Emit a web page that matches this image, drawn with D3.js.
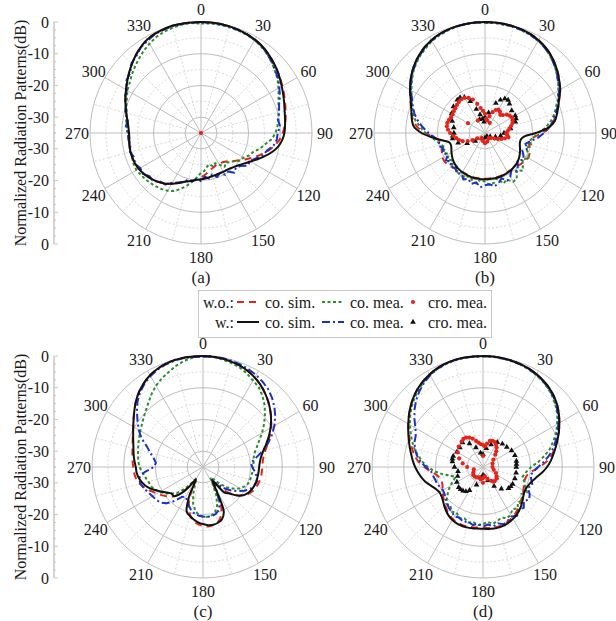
<!DOCTYPE html>
<html>
<head>
<meta charset="utf-8">
<script src="https://cdn.jsdelivr.net/npm/d3@7"></script>
<style>
  html, body { margin: 0; padding: 0; background: #fff; }
  svg { display: block; }
</style>
</head>
<body>
<svg id="chart" width="616" height="621"></svg>
<script>
// ---- data (dB, angles in degrees, clockwise from 0 at top) ----
const angles = d3.range(0, 360, 5);

const radialTicks = [0, -10, -20, -30];
const angleTicks = d3.range(0, 360, 30);
const panelLabels = ["(a)", "(b)", "(c)", "(d)"];

// (a)
const aWoCoSim = [0,0,-0.1,-0.2,-0.4,-0.7,-1.0,-1.5,-2.2,-3.0,-3.8,-4.6,-5.4,-6.1,-6.8,-7.4,-7.9,-8.5,-9.2,-10.2,-11.6,-13.2,-15.0,-16.8,-18.5,-20.0,-21.3,-22.4,-23.2,-23.6,-23.8,-23.8,-23.5,-23.0,-22.4,-21.7,-21.0,-20.4,-19.8,-19.2,-18.6,-17.5,-16.5,-15.5,-14.7,-14.0,-13.4,-12.8,-12.4,-12.1,-12.0,-12.0,-12.1,-12.3,-12.3,-12.0,-11.4,-10.6,-9.7,-8.7,-7.7,-6.6,-5.4,-4.2,-3.0,-1.9,-1.0,-0.5,-0.2,0,0,0];
const aWoCoMea = [-0.5,-0.3,-0.4,-0.5,-0.6,-0.8,-1.2,-1.8,-2.5,-3.5,-4.5,-5.5,-6.8,-8.0,-9.0,-9.6,-10.2,-10.8,-11.5,-12.6,-14.5,-15.8,-17.5,-18.2,-19.5,-19.8,-21.2,-22.0,-22.8,-22.0,-23.5,-24.5,-23.8,-24.8,-24.2,-23.0,-22.5,-21.0,-19.5,-17.8,-16.2,-14.8,-14.0,-13.4,-13.0,-12.6,-12.2,-11.9,-11.5,-11.6,-11.9,-12.2,-12.0,-12.4,-12.0,-11.5,-11.0,-10.8,-10.0,-9.2,-8.2,-7.5,-6.5,-5.5,-4.5,-3.4,-2.5,-1.6,-1.0,-0.6,-0.3,-0.2];
const aWCoSim = [0,0,-0.1,-0.2,-0.4,-0.7,-1.0,-1.5,-2.2,-3.0,-3.8,-4.7,-5.6,-6.4,-7.1,-7.7,-8.1,-8.4,-8.7,-9.3,-10.3,-11.8,-13.6,-15.4,-17.0,-18.3,-19.3,-20.0,-20.5,-20.8,-20.9,-21.0,-21.0,-20.9,-20.8,-20.6,-20.4,-20.2,-19.7,-19.2,-18.6,-17.5,-16.5,-15.5,-14.7,-14.0,-13.4,-12.8,-12.4,-12.1,-12.0,-12.0,-12.1,-12.3,-12.3,-12.0,-11.4,-10.6,-9.7,-8.7,-7.7,-6.6,-5.4,-4.2,-3.0,-1.9,-1.0,-0.5,-0.2,0,0,0];
const aWCoMea = [0,-0.2,0,-0.3,-0.5,-0.6,-1.2,-1.5,-2.6,-3.3,-4.5,-5.2,-6.5,-7.5,-8.8,-9.5,-10.4,-10.0,-10.8,-11.0,-11.8,-13.5,-14.2,-16.0,-17.2,-17.0,-18.8,-19.5,-18.6,-20.2,-19.8,-21.0,-20.2,-21.5,-20.4,-21.2,-19.8,-20.6,-19.5,-19.9,-18.4,-17.8,-16.8,-15.2,-15.0,-13.6,-13.8,-12.6,-12.9,-12.0,-12.6,-11.8,-12.4,-12.0,-11.9,-11.2,-11.6,-10.2,-9.8,-8.4,-8.0,-6.2,-5.8,-4.0,-3.3,-2.0,-1.4,-0.6,-0.4,-0.1,0,-0.1];
const aWoCro = [[0, -35]];
const aWCro = [];

// (b)
const bWoCoSim = [0,0,-0.1,-0.2,-0.4,-0.7,-1.2,-1.9,-2.8,-3.9,-5.1,-6.4,-7.7,-9.1,-10.5,-11.8,-13.0,-14.5,-17.0,-19.6,-20.8,-20.6,-20.0,-19.5,-19.3,-19.5,-20.0,-20.4,-20.7,-20.8,-20.8,-20.7,-20.6,-20.6,-20.6,-20.6,-20.6,-20.6,-20.6,-20.6,-20.7,-20.8,-20.8,-20.7,-20.4,-20.0,-19.6,-19.4,-19.5,-20.0,-20.6,-21.0,-20.6,-19.0,-16.2,-13.6,-12.0,-11.0,-10.1,-9.0,-7.7,-6.3,-5.0,-3.8,-2.8,-1.9,-1.2,-0.7,-0.4,-0.2,-0.1,0];
const bWoCoMea = [-0.3,-0.1,-0.4,-0.3,-0.7,-0.9,-1.5,-2.0,-3.2,-4.1,-5.6,-6.8,-8.3,-9.6,-11.2,-12.4,-14.0,-15.8,-18.2,-19.5,-20.8,-19.8,-21.2,-20.0,-19.0,-20.6,-19.4,-18.2,-19.6,-17.5,-17.2,-18.8,-18.0,-20.2,-19.0,-18.6,-19.6,-20.4,-18.8,-19.5,-20.6,-19.4,-20.8,-19.8,-21.2,-20.4,-21.5,-20.6,-21.8,-20.5,-21.6,-20.8,-19.6,-18.2,-16.2,-14.6,-12.8,-11.4,-10.6,-9.4,-8.2,-6.8,-5.4,-4.2,-3.2,-2.4,-1.5,-1.0,-0.6,-0.3,-0.2,-0.1];
const bWCoSim = [0,0,-0.1,-0.2,-0.4,-0.7,-1.2,-1.9,-2.8,-3.9,-5.1,-6.4,-7.6,-9.2,-10.4,-11.5,-12.6,-14.8,-19.0,-22.5,-23.5,-23.6,-23.3,-22.8,-22.3,-21.8,-21.4,-21.1,-20.9,-20.7,-20.6,-20.5,-20.4,-20.4,-20.4,-20.4,-20.4,-20.4,-20.4,-20.4,-20.5,-20.6,-20.7,-20.9,-21.1,-21.4,-21.8,-22.3,-22.8,-23.3,-23.6,-23.4,-21.5,-18.4,-15.0,-12.5,-11.6,-11.0,-10.2,-9.1,-7.7,-6.3,-5.0,-3.8,-2.8,-1.9,-1.2,-0.7,-0.4,-0.2,-0.1,0];
const bWCoMea = [0,-0.2,0,-0.4,-0.5,-1.0,-1.4,-2.2,-3.0,-4.3,-5.4,-6.9,-8.0,-9.5,-10.6,-12.0,-13.2,-14.6,-16.4,-18.2,-20.4,-21.8,-20.6,-22.0,-21.0,-20.2,-21.6,-20.4,-19.2,-20.6,-19.0,-18.4,-19.8,-18.6,-17.9,-18.8,-18.5,-17.8,-19.2,-18.4,-19.6,-18.8,-20.2,-19.4,-20.6,-19.8,-21.0,-20.0,-21.4,-20.2,-21.0,-19.8,-20.4,-19.0,-17.2,-15.4,-13.6,-12.0,-10.8,-9.6,-8.0,-6.6,-5.2,-4.0,-3.0,-2.0,-1.3,-0.8,-0.4,-0.2,-0.1,0];
const bWoCro = [[0,-29],[5,-30.5],[10,-31],[15,-29.5],[20,-28],[25,-27],[30,-26.5],[35,-26.8],[40,-27.5],[45,-27],[50,-26],[55,-25.5],[60,-25.2],[65,-25.4],[70,-25.8],[75,-26.5],[80,-27.2],[85,-27.8],[90,-28.3],[95,-28],[100,-27.5],[105,-28.5],[110,-29.5],[115,-30.5],[120,-31.5],[130,-32.5],[145,-33],[165,-32.2],[180,-31.8],[195,-32.4],[215,-33],[235,-32],[240,-30.5],[245,-29],[250,-27.5],[255,-26.5],[260,-25.8],[265,-25],[270,-24],[275,-23.3],[280,-22.8],[285,-22.7],[290,-22.9],[295,-23.2],[300,-23.2],[305,-23],[310,-22.8],[315,-22.5],[320,-22.2],[325,-22],[330,-22.2],[335,-22.8],[340,-23.8],[345,-25.5],[350,-27],[355,-28],[330,-30.5],[300,-28.8],[25,-31.5]];
const bWCro = [[0,-30],[10,-28.5],[20,-25],[25,-23.5],[30,-22.5],[35,-22.3],[40,-23],[50,-24],[60,-24],[65,-24.2],[70,-24.8],[80,-26.8],[90,-29],[100,-30],[110,-31.5],[125,-33],[150,-33.8],[180,-33.5],[210,-33],[230,-31],[240,-28.5],[250,-26],[260,-24.6],[265,-24.8],[270,-25.2],[280,-25],[290,-24],[300,-22.8],[310,-22],[320,-21.4],[325,-21.3],[330,-22],[335,-24],[340,-27],[345,-29],[350,-30.5],[338,-30.4],[355,-31.5]];

// (c)
const cWoCoSim = [0,-0.1,-0.3,-0.6,-1.0,-1.6,-2.4,-3.4,-4.6,-5.9,-7.3,-8.7,-10.2,-11.8,-13.3,-14.6,-15.6,-16.1,-16.3,-16.4,-16.5,-16.7,-17.0,-17.5,-18.3,-19.5,-21.2,-23.5,-26.5,-29.8,-28.0,-21.5,-18.5,-17.0,-16.4,-16.2,-16.4,-16.9,-17.8,-19.3,-21.8,-25.8,-29.8,-27.5,-24.2,-22.0,-20.6,-19.4,-18.3,-17.0,-15.6,-14.4,-13.6,-13.2,-13.0,-12.7,-12.4,-12.0,-11.4,-10.6,-9.6,-8.3,-6.8,-5.2,-3.8,-2.6,-1.6,-0.9,-0.4,-0.1,0,0];
const cWoCoMea = [0,-0.1,-0.5,-1.0,-1.5,-2.4,-3.5,-4.3,-5.8,-7.5,-9.5,-11.5,-13.5,-15.5,-17.0,-18.2,-18.8,-19.0,-19.2,-19.3,-19.5,-19.6,-19.8,-20.5,-21.5,-23.0,-25.0,-27.5,-30.0,-31.0,-29.0,-25.0,-22.0,-20.2,-19.5,-19.2,-19.3,-19.8,-21.0,-23.0,-26.0,-29.0,-31.0,-29.0,-26.0,-23.5,-22.0,-20.5,-19.2,-18.2,-17.5,-17.2,-16.5,-15.8,-15.0,-14.5,-14.2,-13.8,-13.3,-12.8,-12.2,-11.5,-10.6,-9.6,-8.3,-6.8,-5.4,-4.2,-3.2,-2.0,-1.0,-0.3];
const cWCoSim = [0,-0.1,-0.3,-0.6,-1.0,-1.6,-2.4,-3.4,-4.6,-5.9,-7.3,-8.8,-10.4,-12.1,-13.8,-15.3,-16.4,-17.0,-17.3,-17.4,-17.5,-17.6,-17.8,-18.1,-18.6,-19.5,-21.0,-23.2,-24.5,-30.0,-27.0,-19.5,-17.5,-16.8,-16.5,-16.6,-17.0,-17.5,-18.2,-19.0,-20.0,-24.5,-30.5,-27.5,-24.0,-22.0,-22.0,-21.0,-19.6,-18.0,-16.4,-15.3,-14.5,-14.0,-13.8,-13.3,-12.8,-12.3,-11.6,-10.7,-9.6,-8.3,-6.8,-5.2,-3.8,-2.6,-1.6,-0.9,-0.4,-0.1,0,0];
const cWCoMea = [-0.2,0,-0.1,-0.3,-0.6,-1.0,-1.5,-2.2,-3.0,-4.2,-5.6,-7.2,-9.0,-11.0,-13.2,-15.5,-18.0,-19.8,-19.5,-18.6,-17.8,-17.4,-17.8,-18.6,-20.0,-21.8,-23.5,-25.5,-28.0,-29.0,-26.5,-22.5,-20.5,-19.6,-19.3,-19.2,-19.4,-19.6,-20.0,-20.8,-22.0,-23.2,-24.2,-23.5,-21.0,-18.8,-17.5,-17.0,-16.6,-16.0,-15.2,-14.6,-14.4,-16.5,-19.5,-20.1,-19.2,-17.8,-16.2,-13.6,-11.6,-9.8,-7.8,-5.8,-4.2,-2.9,-1.9,-1.1,-0.6,-0.3,-0.1,-0.2];
const cWoCro = [];
const cWCro = [];

// (d)
const dWoCoSim = [0,0,-0.1,-0.3,-0.5,-0.8,-1.2,-1.8,-2.5,-3.4,-4.5,-5.8,-7.2,-8.6,-10.0,-11.5,-13.0,-14.8,-17.2,-19.5,-20.8,-21.2,-21.1,-20.8,-20.3,-19.8,-19.2,-18.5,-17.8,-17.2,-16.6,-16.1,-15.8,-15.6,-15.6,-15.7,-15.8,-15.8,-15.7,-15.6,-15.6,-15.8,-16.0,-16.6,-17.3,-18.1,-18.9,-19.6,-20.3,-20.9,-21.2,-21.0,-20.2,-18.5,-16.5,-14.5,-13.0,-11.8,-10.4,-9.1,-7.8,-6.5,-5.2,-4.0,-2.9,-2.0,-1.3,-0.7,-0.3,-0.1,0,0];
const dWoCoMea = [-0.2,0,-0.2,-0.4,-0.6,-1.0,-1.5,-2.1,-2.9,-3.9,-5.1,-6.4,-8.0,-9.6,-11.4,-13.2,-15.4,-17.6,-19.8,-21.0,-21.8,-22.2,-21.0,-20.4,-19.0,-20.2,-18.6,-19.4,-18.0,-18.8,-17.6,-17.2,-18.0,-17.4,-16.8,-17.6,-17.0,-16.6,-17.4,-16.9,-17.8,-17.2,-18.4,-17.8,-19.0,-18.6,-20.2,-21.6,-23.0,-24.6,-25.8,-24.4,-22.0,-19.6,-17.6,-15.8,-14.2,-12.6,-11.2,-9.8,-8.4,-7.0,-5.6,-4.4,-3.3,-2.3,-1.5,-0.9,-0.5,-0.2,-0.1,-0.1];
const dWCoSim = [0,0,-0.1,-0.3,-0.5,-0.8,-1.2,-1.8,-2.5,-3.4,-4.5,-5.8,-7.2,-8.6,-10.0,-11.3,-12.5,-13.6,-14.8,-16.2,-17.6,-18.7,-19.4,-19.8,-19.8,-19.4,-18.7,-17.9,-17.2,-16.6,-16.1,-15.7,-15.4,-15.3,-15.3,-15.4,-15.5,-15.5,-15.4,-15.3,-15.3,-15.4,-15.7,-16.2,-16.9,-17.7,-18.5,-19.0,-19.1,-18.6,-17.6,-16.4,-15.4,-14.5,-13.6,-12.8,-12.0,-11.1,-10.1,-9.0,-7.8,-6.5,-5.2,-4.0,-2.9,-2.0,-1.3,-0.7,-0.3,-0.1,0,0];
const dWCoMea = [0,-0.1,-0.3,-0.2,-0.6,-0.9,-1.4,-1.9,-2.8,-3.6,-4.9,-6.0,-7.6,-9.0,-10.6,-12.0,-13.8,-15.6,-17.6,-19.0,-19.8,-19.2,-18.4,-19.4,-18.0,-17.2,-18.2,-16.8,-17.4,-16.2,-17.0,-16.4,-15.8,-16.6,-16.0,-16.8,-16.2,-17.0,-16.4,-17.2,-16.6,-17.4,-17.0,-17.8,-18.2,-19.0,-19.6,-20.2,-20.4,-20.0,-19.6,-19.4,-19.0,-18.6,-17.0,-15.2,-13.8,-12.8,-12.0,-11.6,-10.4,-8.6,-6.8,-5.2,-3.8,-2.6,-1.6,-0.9,-0.4,-0.1,0,-0.1];
const dWoCro = [[0,-28],[5,-28.5],[10,-27.5],[15,-26.5],[20,-26.2],[25,-26.3],[30,-26.8],[35,-27.5],[40,-28.5],[45,-29.5],[55,-31],[70,-31.8],[90,-32],[105,-31.5],[115,-30.5],[125,-29.8],[130,-29.3],[140,-29.2],[145,-29.4],[150,-30],[160,-31],[170,-32],[180,-31.5],[190,-31],[200,-31.5],[210,-31.2],[220,-31],[230,-31],[240,-31.5],[255,-32],[270,-30],[280,-28.5],[290,-27],[300,-25.8],[310,-25],[320,-24.5],[325,-24.2],[330,-24.3],[335,-24.8],[340,-25.5],[345,-26.5],[350,-27.2],[355,-27.8],[0,-31.5],[180,-30]];
const dWCro = [[0,-31],[10,-29],[20,-27.5],[30,-26],[40,-25.5],[50,-25.2],[60,-24.6],[70,-24.3],[80,-24.3],[85,-24.4],[90,-24.5],[100,-24.4],[110,-24.3],[120,-24.2],[125,-24.3],[130,-24.5],[140,-26],[150,-28],[160,-30.5],[170,-32],[180,-32.5],[190,-31.5],[200,-29],[210,-26.5],[215,-25.6],[220,-25.2],[225,-25],[230,-25],[240,-25.5],[250,-26.5],[260,-27],[270,-26],[280,-25.2],[285,-25],[290,-25],[300,-25.5],[310,-25.5],[320,-25],[330,-26.5],[340,-28.5],[350,-30.5]];

// ---- layout ----
const R = 111;
const FONT = "Liberation Serif";
const panels = [
  {cx: 201, cy: 133, label: panelLabels[0], woSim: aWoCoSim, woMea: aWoCoMea, wSim: aWCoSim, wMea: aWCoMea, woCro: aWoCro, wCro: aWCro, axis: true},
  {cx: 485, cy: 133, label: panelLabels[1], woSim: bWoCoSim, woMea: bWoCoMea, wSim: bWCoSim, wMea: bWCoMea, woCro: bWoCro, wCro: bWCro, axis: false},
  {cx: 203, cy: 467, label: panelLabels[2], woSim: cWoCoSim, woMea: cWoCoMea, wSim: cWCoSim, wMea: cWCoMea, woCro: cWoCro, wCro: cWCro, axis: true},
  {cx: 483, cy: 467, label: panelLabels[3], woSim: dWoCoSim, woMea: dWoCoMea, wSim: dWCoSim, wMea: dWCoMea, woCro: dWoCro, wCro: dWCro, axis: false}
];

const styles = {
  woSim: {stroke: "#e3241b", dash: "7,5", width: 2},
  woMea: {stroke: "#2e8b2e", dash: "3,2.5", width: 2},
  wSim:  {stroke: "#111111", dash: null, width: 2},
  wMea:  {stroke: "#1a32c8", dash: "8,3,2,3", width: 2}
};

const svg = d3.select("#chart");
const rScale = d3.scaleLinear().domain([-35, 0]).range([0, R]).clamp(true);
const aScale = d3.scaleLinear().domain([0, 360]).range([0, 2 * Math.PI]);

const simLine = d3.lineRadial()
  .angle(d => aScale(d[0]))
  .radius(d => rScale(d[1]))
  .curve(d3.curveCatmullRomClosed.alpha(0.5));
const meaLine = d3.lineRadial()
  .angle(d => aScale(d[0]))
  .radius(d => rScale(d[1]))
  .curve(d3.curveLinearClosed);

const triangle = d3.symbol().type(d3.symbolTriangle).size(14);

function label(sel, size) {
  return sel.attr("font-family", FONT).attr("font-size", size).attr("fill", "#1a1a1a");
}

panels.forEach(p => {
  const g = svg.append("g").attr("transform", `translate(${p.cx},${p.cy})`);

  // grid circles: solid at 10 dB steps, dashed in between
  d3.range(-30, 1, 5).forEach(v => {
    const solid = v % 10 === 0;
    g.append("circle")
      .attr("r", rScale(v))
      .attr("fill", "none")
      .attr("stroke", solid ? "#bdbdbd" : "#d4d4d4")
      .attr("stroke-width", solid ? 1 : 0.9)
      .attr("stroke-dasharray", solid ? null : "2,2");
  });

  // spokes
  d3.range(0, 360, 15).forEach(a => {
    const solid = a % 30 === 0;
    const t = aScale(a);
    const r0 = solid ? 0 : rScale(-30);
    g.append("line")
      .attr("x1", r0 * Math.sin(t)).attr("y1", -r0 * Math.cos(t))
      .attr("x2", R * Math.sin(t)).attr("y2", -R * Math.cos(t))
      .attr("stroke", solid ? "#bdbdbd" : "#d4d4d4")
      .attr("stroke-width", solid ? 1 : 0.9)
      .attr("stroke-dasharray", solid ? null : "2,2");
  });

  // angular tick labels
  angleTicks.forEach(a => {
    const t = aScale(a);
    const rl = R + 13;
    label(g.append("text"), 16)
      .attr("x", rl * Math.sin(t))
      .attr("y", -rl * Math.cos(t))
      .attr("text-anchor", "middle")
      .attr("dominant-baseline", "central")
      .text(a);
  });

  // co-pol curves
  const series = [
    ["woSim", p.woSim, simLine],
    ["woMea", p.woMea, meaLine],
    ["wMea", p.wMea, meaLine],
    ["wSim", p.wSim, simLine]
  ];
  series.forEach(([key, vals, gen]) => {
    const st = styles[key];
    g.append("path")
      .datum(angles.map((a, i) => [a, vals[i]]))
      .attr("d", gen)
      .attr("fill", "none")
      .attr("stroke", st.stroke)
      .attr("stroke-width", st.width)
      .attr("stroke-dasharray", st.dash)
      .attr("stroke-linejoin", "round");
  });

  // cross-pol measurements
  g.selectAll(".tri").data(p.wCro).enter().append("path")
    .attr("d", triangle)
    .attr("transform", d => {
      const t = aScale(d[0]), r = rScale(d[1]);
      return `translate(${r * Math.sin(t)},${-r * Math.cos(t)})`;
    })
    .attr("fill", "#111");
  g.selectAll(".dot").data(p.woCro).enter().append("circle")
    .attr("cx", d => rScale(d[1]) * Math.sin(aScale(d[0])))
    .attr("cy", d => -rScale(d[1]) * Math.cos(aScale(d[0])))
    .attr("r", 2.1)
    .attr("fill", "#e3241b");

  // panel label
  label(svg.append("text"), 17)
    .attr("x", p.cx).attr("y", p.cy + 144)
    .attr("text-anchor", "middle")
    .attr("dominant-baseline", "central")
    .text(p.label);

  // radial axis on the left
  if (p.axis) {
    const ax = 54;
    const yTop = d3.scaleLinear().domain([-35, 0]).range([p.cy, p.cy - R]);
    const yBot = d3.scaleLinear().domain([-35, 0]).range([p.cy, p.cy + R]);
    const ag = svg.append("g");
    ag.append("line").attr("x1", ax).attr("x2", ax)
      .attr("y1", yTop(0)).attr("y2", yBot(0))
      .attr("stroke", "#aaa").attr("stroke-width", 1);
    d3.range(-35, 1, 2.5).forEach(v => {
      [yTop, yBot].forEach(s => {
        ag.append("line").attr("x1", ax).attr("x2", ax + (v % 10 === 0 ? 4 : 2))
          .attr("y1", s(v)).attr("y2", s(v))
          .attr("stroke", "#bbb").attr("stroke-width", 0.8);
      });
    });
    radialTicks.forEach(v => {
      [yTop, yBot].forEach(s => {
        label(ag.append("text"), 16).attr("x", ax - 5).attr("y", s(v))
          .attr("text-anchor", "end")
          .attr("dominant-baseline", "central")
          .text(v === 0 ? "0" : "-" + Math.abs(v));
      });
    });
    label(ag.append("text"), 16)
      .attr("transform", `translate(20,${p.cy}) rotate(-90)`)
      .attr("text-anchor", "middle")
      .attr("dominant-baseline", "central")
      .text("Normalized Radiation Patterns(dB)");
  }
});

// ---- legend ----
const lg = svg.append("g");
lg.append("rect").attr("x", 198.5).attr("y", 290.5).attr("width", 293).attr("height", 47)
  .attr("fill", "#fff").attr("stroke", "#c8c8c8").attr("stroke-width", 1);
const rows = [
  {y: 302, head: "w.o.:", sim: "woSim", mea: "woMea", cro: "dot"},
  {y: 322, head: "w.:", sim: "wSim", mea: "wMea", cro: "tri"}
];
rows.forEach(r => {
  label(lg.append("text"), 16).attr("x", 234).attr("y", r.y).attr("text-anchor", "end")
    .attr("dominant-baseline", "central").text(r.head);
  [[r.sim, 237, 259, "co. sim."], [r.mea, 322, 344, "co. mea."]].forEach(([k, x1, x2, txt]) => {
    const st = styles[k];
    lg.append("line").attr("x1", x1).attr("x2", x2).attr("y1", r.y).attr("y2", r.y)
      .attr("stroke", st.stroke).attr("stroke-width", st.width)
      .attr("stroke-dasharray", st.dash);
    label(lg.append("text"), 16).attr("x", x2 + 6).attr("y", r.y)
      .attr("dominant-baseline", "central").text(txt);
  });
  if (r.cro === "dot") {
    lg.append("circle").attr("cx", 413).attr("cy", r.y).attr("r", 2.1).attr("fill", "#e3241b");
  } else {
    lg.append("path").attr("d", triangle).attr("transform", `translate(413,${r.y})`).attr("fill", "#111");
  }
  label(lg.append("text"), 16).attr("x", 428).attr("y", r.y)
    .attr("dominant-baseline", "central").text("cro. mea.");
});
</script>
</body>
</html>
